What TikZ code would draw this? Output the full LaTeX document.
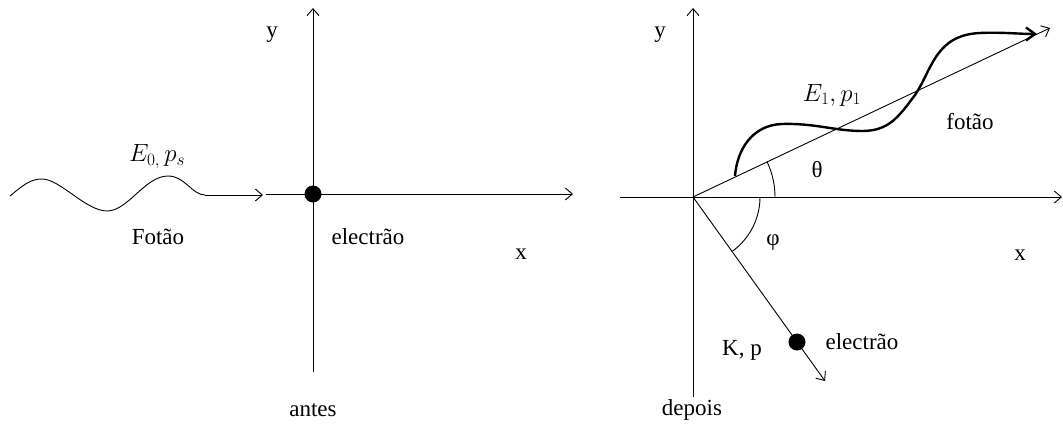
\documentclass[tikz,border=0pt]{standalone}
\usepackage{fontspec}
\setmainfont{Liberation Serif}
\usetikzlibrary{arrows.meta}
\begin{document}
\begin{tikzpicture}[x=1pt,y=-1pt,
  lbl/.style={font=\fontsize{23}{27}\selectfont, inner sep=0pt},
  thin line/.style={line width=0.9pt},
  barb/.style={-{Straight Barb[length=7pt,width=12pt,line width=0.9pt]}},
  thickbarb/.style={-{Straight Barb[length=9pt,width=13pt,line width=2.4pt]}},
  dot/.style={circle, fill=black, minimum size=17pt, inner sep=0pt}]
\useasboundingbox (0,0) rectangle (1063,425);
% ---------- left: antes ----------
\coordinate (Ly0) at (313,372);
\coordinate (Ly1) at (313,8);
\coordinate (Lx0) at (266,194);
\coordinate (Lx1) at (573,194);
\coordinate (W0) at (10,196);
\coordinate (W1) at (205,195);
\coordinate (Wend) at (263,195);
\draw[thin line,barb] (Ly0) -- (Ly1);
\draw[thin line,barb] (Lx0) -- (Lx1);
\draw[thin line] (W0) .. controls (22,186) and (30,179) .. (42,179)
  .. controls (60,179) and (86,211) .. (107,211)
  .. controls (128,211) and (145,176) .. (168,176)
  .. controls (185,176) and (192,195) .. (W1);
\draw[thin line,barb] (W1) -- (Wend);
\node[dot] (e0) at (313,194) {};
\node[lbl] (ly) at (272,35) {y};
\node[lbl] (lx) at (521,254) {x};
\node[lbl] (lE) at (157,157) {$E_{0,}\, p_{s}$};
\node[lbl] (lF) at (158,237) {Fotão};
\node[lbl] (le) at (368,237) {electrão};
\node[lbl] (la) at (313,410) {antes};
% ---------- right: depois ----------
\coordinate (O) at (693,197);
\coordinate (Ry0) at (693,397);
\coordinate (Ry1) at (693,8);
\coordinate (Rx0) at (620,197);
\coordinate (Rx1) at (1062,197);
\coordinate (Ph) at (1050,28);
\coordinate (El) at (825,381);
\draw[thin line,barb] (Ry0) -- (Ry1);
\draw[thin line,barb] (Rx0) -- (Rx1);
\draw[thin line,barb] (O) -- (Ph);
\draw[thin line,barb] (O) -- (El);
\node[dot] (e1) at (797,342) {};
% thick photon wave
\coordinate (T0) at (735,176);
\coordinate (T1) at (1037,34);
\draw[line width=2.4pt,thickbarb] (T0) .. controls (737,150) and (752,125) .. (782,124)
  .. controls (815,123) and (835,131) .. (862,131)
  .. controls (888,131) and (898,118) .. (915,95)
  .. controls (932,70) and (935,35) .. (980,33)
  .. controls (1000,32) and (1020,34) .. (T1);
% angle arcs
\draw[thin line] (775,197) arc[start angle=0, end angle=-25.5, radius=82];
\draw[thin line] (760,197) arc[start angle=0, end angle=54.2, radius=67];
\node[lbl] (ry) at (660,35) {y};
\node[lbl] (rx) at (1020,255) {x};
\node[lbl] (rE) at (832,95) {$E_{1}, p_{1}$};
\node[lbl] (rf) at (970,122) {fotão};
\node[lbl] (th) at (817,170) {θ};
\node[lbl] (ph) at (773,243) {φ};
\node[lbl] (kp) at (742,350) {K, p};
\node[lbl] (re) at (862,342) {electrão};
\node[lbl] (rd) at (692,410) {depois};
\end{tikzpicture}
\end{document}
